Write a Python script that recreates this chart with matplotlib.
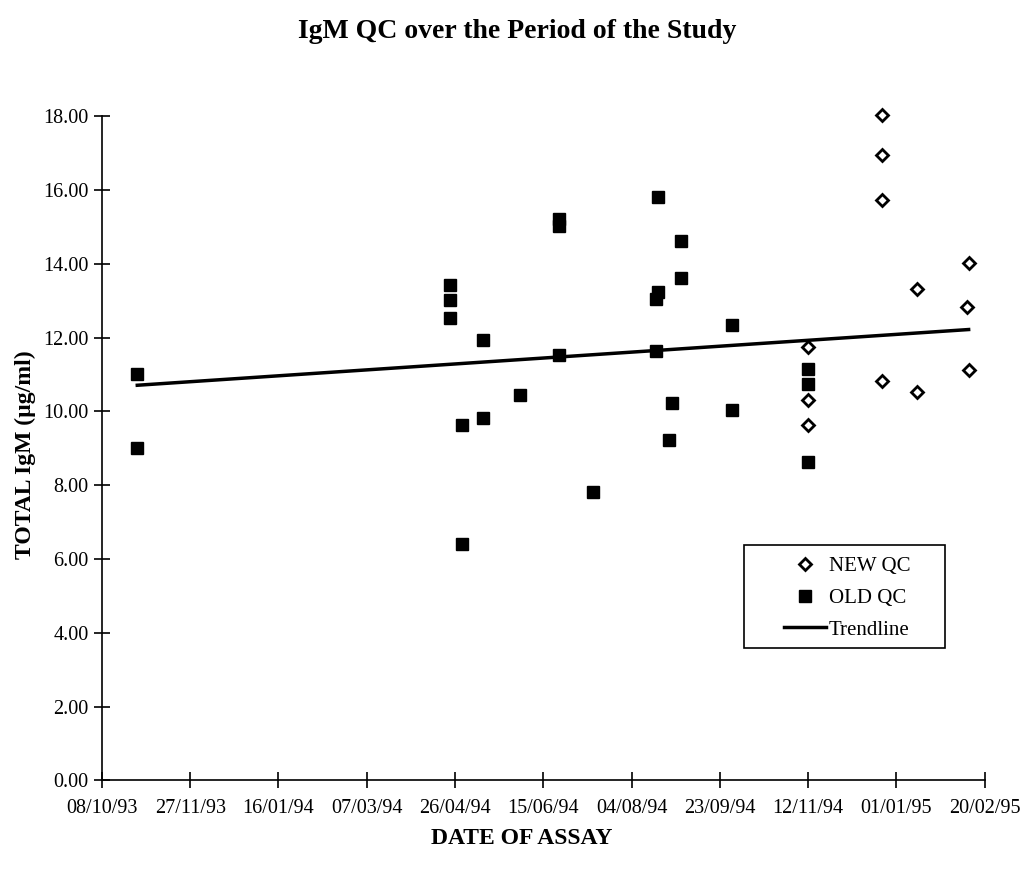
import matplotlib
matplotlib.use("Agg")
import matplotlib.pyplot as plt
import matplotlib.dates as mdates
from matplotlib.patches import Rectangle
import numpy as np

plt.rcParams['font.family'] = ['Liberation Serif', 'DejaVu Serif']

# QC results
old_dates = np.array([
    '1993-10-28', '1993-10-28',
    '1994-04-23', '1994-04-23', '1994-04-23',
    '1994-05-12', '1994-06-02', '1994-05-12', '1994-04-30', '1994-04-30',
    '1994-06-24', '1994-06-24', '1994-06-24', '1994-07-13',
    '1994-08-19', '1994-09-01', '1994-09-01', '1994-08-19', '1994-08-18',
    '1994-08-18', '1994-08-27', '1994-08-25',
    '1994-09-30', '1994-09-30',
    '1994-11-12', '1994-11-12', '1994-11-12',
], dtype='datetime64[D]')
old_igm = [11.01, 9.01,
           13.44, 13.02, 12.52,
           11.94, 10.45, 9.83, 9.62, 6.41,
           15.22, 15.02, 11.54, 7.83,
           15.81, 14.62, 13.61, 13.24, 13.04,
           11.64, 10.23, 9.24,
           12.33, 10.05,
           11.14, 10.75, 8.63]

new_dates = np.array([
    '1994-12-24', '1994-12-24', '1994-12-24',
    '1995-02-11', '1995-01-13', '1995-02-10', '1994-11-12',
    '1995-02-11', '1994-12-24', '1995-01-13', '1994-11-12', '1994-11-12',
], dtype='datetime64[D]')
new_igm = [18.03, 16.94, 15.72,
           14.02, 13.32, 12.82, 11.74,
           11.13, 10.83, 10.53, 10.32, 9.63]

# trendline as drawn on the chart (end points)
trend_dates = np.array(['1993-10-28', '1995-02-11'], dtype='datetime64[D]')
trend_igm = [10.71, 12.22]

start = np.datetime64('1993-10-08')
end = np.datetime64('1995-02-20')
tick_dates = np.arange(start, end + 1, 50)
y_ticks = np.arange(0, 19, 2)

fig = plt.figure(figsize=(10.25, 8.74), dpi=100)
ax = fig.add_axes([0.0995, 0.107, 0.861, 0.76])

ax.plot(new_dates, new_igm, linestyle='none', marker='D', markersize=6,
        markerfacecolor='white', markeredgecolor='black', markeredgewidth=2,
        label='NEW QC', clip_on=False)
ax.plot(old_dates, old_igm, linestyle='none', marker='s', markersize=8.5,
        color='black', label='OLD QC', clip_on=False)
ax.plot(trend_dates, trend_igm, color='black', lw=2.5, label='Trendline')

ax.set_xlim(start, end)
ax.set_ylim(0, 18)
ax.set_xticks(tick_dates)
ax.xaxis.set_major_formatter(mdates.DateFormatter('%d/%m/%y'))
ax.set_yticks(y_ticks)
ax.set_yticklabels([f'{v:.2f}' for v in y_ticks])

for s in ['top', 'right']:
    ax.spines[s].set_visible(False)
for s in ['left', 'bottom']:
    ax.spines[s].set_linewidth(1.2)
ax.tick_params(axis='both', direction='inout', length=12, width=1.2,
               labelsize=14.5)
ax.tick_params(axis='x', pad=7)

ax.set_xlabel('DATE OF ASSAY', fontsize=17, fontweight='bold')
ax.xaxis.set_label_coords(0.476, -0.072)
ax.set_ylabel('TOTAL IgM (µg/ml)', fontsize=17, fontweight='bold')
ax.yaxis.set_label_coords(-0.075, 0.49)
fig.suptitle('IgM QC over the Period of the Study', fontsize=20,
             fontweight='bold', x=0.505, y=0.978)

# legend box drawn separately so the padding matches the original
ax.add_patch(Rectangle((0.728, 0.200), 0.227, 0.154, transform=ax.transAxes,
                       fill=False, edgecolor='black', lw=1.2, clip_on=False))
ax.legend(loc='upper left', bbox_to_anchor=(0.773, 0.337), fontsize=15,
          frameon=False, borderpad=0, handlelength=2.0, handletextpad=0.15,
          labelspacing=0.58, borderaxespad=0)

fig.savefig('out.png', dpi=100)
